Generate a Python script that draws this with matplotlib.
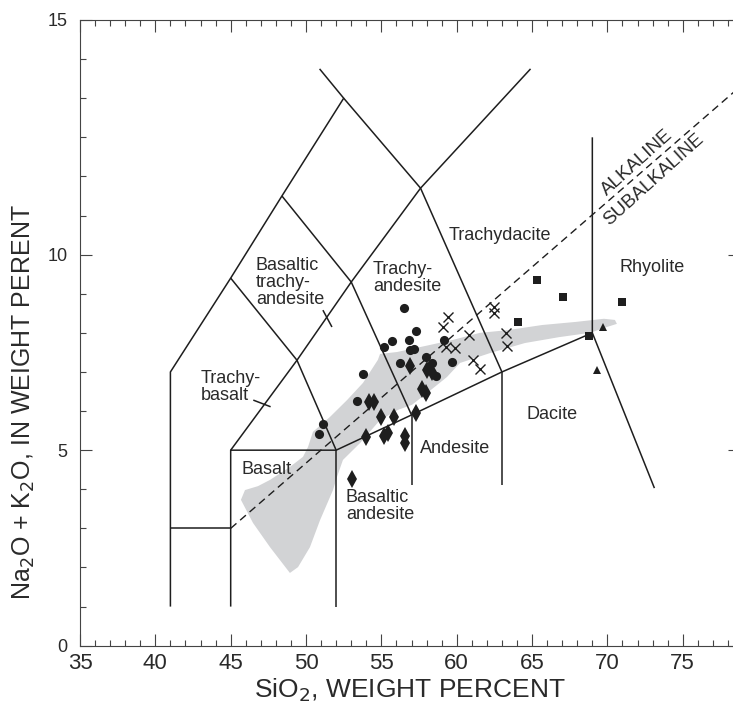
import matplotlib
matplotlib.use("Agg")
import matplotlib.pyplot as plt
from matplotlib.ticker import MultipleLocator

# field boundaries (SiO2, Na2O+K2O)
bnd_lines = [
    [(41, 1), (41, 7), (45, 9.4), (48.4, 11.5), (52.5, 14), (50.9, 14.75)],
    [(41, 3), (45, 3)],
    [(45, 1), (45, 5), (52, 5), (57, 5.9), (63, 7), (69, 8)],
    [(52, 1), (52, 5)],
    [(57, 4.1), (57, 5.9)],
    [(63, 4.1), (63, 7)],
    [(45, 5), (49.4, 7.3), (53, 9.3), (57.6, 11.7), (64.9, 14.75)],
    [(45, 9.4), (49.4, 7.3), (52, 5)],
    [(48.4, 11.5), (53, 9.3), (57, 5.9)],
    [(52.5, 14), (57.6, 11.7), (63, 7)],
    [(69, 13), (69, 8), (73.12, 4.03)],
]
leaders = [
    [(51.12, 8.58), (51.72, 8.15)],
    [(46.5, 6.28), (47.65, 6.11)],
]
alk_line_x = [45, 79]
alk_line_y = [3, 14.36]

# grey field of earlier analyses
grey_x = [48.93, 47.61, 46.48, 45.68, 45.95, 46.81, 47.61, 48.93, 49.80, 50.13,
          50.46, 51.59, 52.72, 53.78, 54.77, 54.91, 56.04, 58.22, 59.75, 61.54,
          63.40, 65.66, 67.91, 69.77, 70.50, 70.63, 69.97, 68.84, 66.79, 64.53,
          62.27, 60.22, 59.35, 58.03, 57.03, 56.10, 54.91, 53.58, 52.45, 52.05,
          51.79, 50.93, 50.26, 49.47]
grey_y = [1.86, 2.52, 3.14, 3.73, 3.98, 4.08, 4.24, 4.57, 4.83, 5.08,
          5.47, 5.85, 6.28, 6.72, 7.31, 7.46, 7.51, 7.69, 7.82, 8.00,
          8.07, 8.20, 8.28, 8.36, 8.33, 8.23, 8.15, 8.00, 7.89, 7.74,
          7.49, 7.23, 6.87, 6.46, 6.16, 6.03, 5.77, 5.18, 4.75, 4.31,
          3.98, 3.21, 2.52, 2.01]

circ_x = [56.52, 57.3, 56.85, 55.69, 55.2, 59.17, 56.92, 57.18, 57.94, 58.34,
          58.6, 56.23, 59.68, 53.8, 53.36, 51.14, 50.88]
circ_y = [8.63, 8.05, 7.82, 7.78, 7.65, 7.82, 7.55, 7.58, 7.39, 7.24,
          6.9, 7.22, 7.26, 6.95, 6.27, 5.66, 5.41]
diam_x = [56.93, 58.01, 58.34, 57.67, 57.94, 54.2, 54.5, 54.95, 55.82, 57.33,
          53.98, 55.2, 55.45, 56.6, 56.6, 53.03]
diam_y = [7.15, 7.05, 7.01, 6.56, 6.45, 6.24, 6.24, 5.86, 5.86, 5.96,
          5.33, 5.35, 5.45, 5.35, 5.19, 4.26]
cross_x = [59.45, 59.11, 59.29, 59.9, 60.81, 62.5, 62.5, 63.3, 63.37, 61.1, 61.56]
cross_y = [8.40, 8.16, 7.65, 7.62, 7.95, 8.67, 8.50, 7.99, 7.67, 7.31, 7.07]
sq_x = [65.34, 67.08, 70.96, 64.1, 68.81]
sq_y = [9.34, 8.91, 8.80, 8.27, 7.92]
tri_x = [69.68, 69.34]
tri_y = [8.14, 7.05]

field_names = ["Trachydacite", "Rhyolite", "Dacite", "Andesite", "Basaltic\nandesite",
               "Basalt", "Trachy-\nbasalt", "Basaltic\ntrachy-\nandesite", "Trachy-\nandesite"]
field_x = [59.45, 70.8, 64.66, 57.56, 52.65, 45.75, 43.03, 46.68, 54.44]
field_y = [10.5, 9.66, 5.9, 5.05, 3.57, 4.5, 6.61, 9.29, 9.40]

ink = '#1e1e1e'
txt = '#2a2a2a'
fig = plt.figure(figsize=(7.33, 7.04), dpi=100)
ax = fig.add_axes([80/733, 58.3/704, 660/733, 625.7/704])

ax.fill(grey_x, grey_y, color='#d2d3d5', lw=0, zorder=1)
for seg in bnd_lines + leaders:
    xs, ys = zip(*seg)
    ax.plot(xs, ys, color=ink, lw=1.1, solid_capstyle='butt', zorder=2)
ax.plot(alk_line_x, alk_line_y, color=ink, lw=1.0, dashes=(5.5, 3.5), zorder=2)

ax.plot(circ_x, circ_y, 'o', ms=6.6, color=ink, mew=0, zorder=3)
ax.plot(diam_x, diam_y, 'd', ms=9, color=ink, mew=0, zorder=3)
ax.plot(cross_x, cross_y, 'x', ms=7, color=ink, mew=1.0, zorder=3)
ax.plot(sq_x, sq_y, 's', ms=6, color=ink, mew=0, zorder=3)
ax.plot(tri_x, tri_y, '^', ms=6, color=ink, mew=0, zorder=3)

for name, x, y in zip(field_names, field_x, field_y):
    ax.text(x, y, name, ha='left', va='center', fontsize=13, color=txt,
            family='Liberation Sans', linespacing=1.0, zorder=4)
ax.text(72.0, 12.34, "ALKALINE", rotation=42, ha='center', va='center',
        fontsize=13.5, color=txt, family='Liberation Sans', rotation_mode='anchor')
ax.text(73.09, 11.91, "SUBALKALINE", rotation=42, ha='center', va='center',
        fontsize=13.5, color=txt, family='Liberation Sans', rotation_mode='anchor')

ax.set_xlim(35, 78.8)
ax.set_ylim(0, 16)
ax.set_xticks(range(35, 76, 5))
ax.xaxis.set_minor_locator(MultipleLocator(1))
ax.set_yticks([0, 5, 10, 16], labels=['0', '5', '10', '15'])
ax.yaxis.set_minor_locator(MultipleLocator(1))
ax.tick_params(which='both', direction='in', top=True, right=True, color='#444', width=0.8)
ax.tick_params(which='major', length=8.6)
ax.tick_params(which='minor', length=4.3)
ax.tick_params(axis='y', pad=9, labelsize=13, labelcolor=txt)
ax.tick_params(axis='x', pad=5, labelsize=16, labelcolor=txt)
for lab in ax.get_xticklabels() + ax.get_yticklabels():
    lab.set_family('Liberation Sans')
for sp in ax.spines.values():
    sp.set_color('#444')
    sp.set_linewidth(0.8)

ax.set_xlabel("SiO$_2$, WEIGHT PERCENT", fontsize=19, labelpad=2,
              family='Liberation Sans', color=txt)
ax.set_ylabel("Na$_2$O + K$_2$O, IN WEIGHT PERENT", fontsize=18,
              family='Liberation Sans', color=txt)
ax.yaxis.set_label_coords(-0.065, 0.39)

fig.savefig("out.png", dpi=100)
